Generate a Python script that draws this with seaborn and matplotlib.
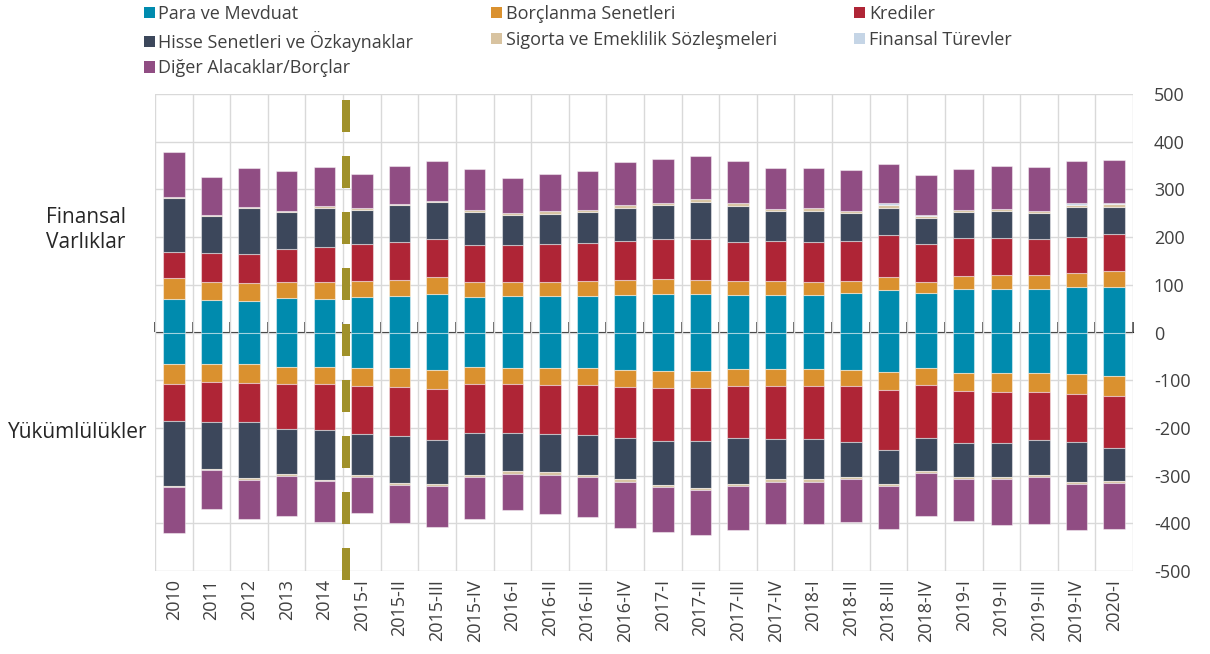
import numpy as np
import pandas as pd
import seaborn as sns
import matplotlib.pyplot as plt
from matplotlib.patches import Patch

donemler = ['2010', '2011', '2012', '2013', '2014', '2015-I', '2015-II', '2015-III', '2015-IV',
            '2016-I', '2016-II', '2016-III', '2016-IV', '2017-I', '2017-II', '2017-III', '2017-IV',
            '2018-I', '2018-II', '2018-III', '2018-IV', '2019-I', '2019-II', '2019-III', '2019-IV', '2020-I']

# finansal varliklar (pozitif)
para_v = [70, 68.5, 66, 72, 71, 73.5, 75.5, 80, 73.5, 75.5, 75.5, 75.5, 79, 80.5, 81, 78, 79,
          79, 82.5, 90, 82, 92, 91.5, 91.5, 94.5, 95]
borc_v = [44, 37.5, 38, 34, 34, 35, 35, 36.5, 31.5, 30.5, 30.5, 32.5, 32, 32, 30, 30, 28.5,
          27, 25, 27, 24, 26, 28.5, 28.5, 30.5, 33]
kredi_v = [54, 60, 60, 69.5, 74, 76.5, 78.5, 79.5, 78, 77, 78.5, 79.5, 81, 82.5, 85, 81.5, 83.5,
           83, 84.5, 88, 79, 80, 78.5, 76, 76, 79.5]
hisse_v = [114, 79, 97, 77, 82, 71, 78, 77, 69, 62.5, 64.5, 65, 70, 72, 77.5, 76, 63,
           65, 57.5, 56.5, 55, 54, 55.5, 54, 62.5, 56.5]
sigorta_v = [2, 2, 2, 3, 4, 4, 3, 3.5, 4, 4, 5, 4, 5, 5, 5.5, 5.5, 5.5,
             6, 5, 5, 5, 5.5, 5, 5, 4.5, 5]
turev_v = [0, 0, 0, 0, 0, 0, 0, 0, 0, 0, 0, 0, 0, 0, 0, 0, 0,
           0, 0, 4, 1, 0, 0, 0, 2.5, 3]
diger_v = [94, 80, 81, 83, 82, 72, 79, 83, 86, 74.5, 79, 82, 91, 91, 90, 89, 84.5,
           85, 85.5, 83, 85, 86, 91, 92.5, 89.5, 89.5]

# yukumlulukler (negatif)
para_y = [-67, -66, -66, -73, -72, -74, -75, -78, -73, -75, -75, -75, -78, -80, -80, -77, -77,
          -76, -78, -82.5, -75, -85, -85, -85, -87.5, -91.5]
borc_y = [-42, -37.5, -39, -35, -37, -38, -38.5, -39.5, -34.5, -34, -35.5, -36, -36, -36, -37, -36, -36,
          -36, -35, -38.5, -35.5, -38, -39.5, -39, -41.5, -42.5]
kredi_y = [-76, -84.5, -82, -94, -96, -100.5, -104, -108.5, -103.5, -102, -102.5, -104, -108, -110.5, -111, -108.5, -110,
           -111, -117, -126, -111, -109, -107.5, -102, -101.5, -108.5]
hisse_y = [-137, -98, -119, -94.5, -105, -86.5, -98, -92, -87.5, -80, -80, -83, -86, -92.5, -98.5, -96, -84.5,
           -84.5, -73, -70.5, -68.5, -71, -71, -73, -82, -68]
sigorta_y = [-2, -3, -3, -3.5, -2, -4, -3.5, -4.5, -3.5, -5, -5, -4, -5, -5, -4.5, -4.5, -5,
             -5, -4.5, -4.5, -5, -4, -4.5, -4.5, -5, -5]
turev_y = [0] * 26
diger_y = [-96, -81, -83, -85, -86, -75, -80, -85, -89, -76, -82, -85, -96, -95, -94, -93, -89.5,
           -89.5, -89, -90, -90, -88, -96.5, -97, -96, -96.5]

seriler = ['Para ve Mevduat', 'Borçlanma Senetleri', 'Krediler', 'Hisse Senetleri ve Özkaynaklar',
           'Sigorta ve Emeklilik Sözleşmeleri', 'Finansal Türevler', 'Diğer Alacaklar/Borçlar']
renkler = ['#008BAE', '#DA912F', '#AF2536', '#3C475B', '#D8C3A0', '#C5D5E6', '#904D83']
varlik = [para_v, borc_v, kredi_v, hisse_v, sigorta_v, turev_v, diger_v]
yukum = [para_y, borc_y, kredi_y, hisse_y, sigorta_y, turev_y, diger_y]

y_ticks = [500, 400, 300, 200, 100, 0, -100, -200, -300, -400, -500]
y_labels = ['500', '400', '300', '200', '100', '0', '-100', '-200', '-300', '-400', '-500']

sns.set_style('white')
plt.rcParams['font.family'] = ['Open Sans', 'DejaVu Sans']
plt.rcParams['axes.unicode_minus'] = False
txt = '#404040'

fig = plt.figure(figsize=(12.1, 6.54), dpi=100)
ax = fig.add_axes([155 / 1210, 1 - 571 / 654, (1133 - 155) / 1210, (571 - 94) / 654])

n = len(donemler)
alt_p = np.zeros(n)
alt_n = np.zeros(n)
for ad, renk, pv, nv in zip(seriler, renkler, varlik, yukum):
    pv = np.array(pv, dtype=float)
    nv = np.array(nv, dtype=float)
    sns.barplot(x=donemler, y=pv, bottom=alt_p, color=renk, saturation=1, width=0.57,
                errorbar=None, edgecolor=(1, 1, 1, 0.45), linewidth=0.8, ax=ax, zorder=3)
    sns.barplot(x=donemler, y=nv, bottom=alt_n, color=renk, saturation=1, width=0.57,
                errorbar=None, edgecolor=(1, 1, 1, 0.45), linewidth=0.8, ax=ax, zorder=3)
    alt_p += pv
    alt_n += nv

ax.set_xlim(-0.5, n - 0.5)
ax.set_ylim(-500, 500)
ax.set_xlabel('')
ax.set_ylabel('')
for s in ax.spines.values():
    s.set_visible(False)

# grid
ax.set_xticks(np.arange(-0.5, n), minor=True)
ax.grid(True, which='minor', axis='x', color='#D9D9D9', linewidth=1, zorder=0)
ax.grid(True, which='major', axis='y', color='#D9D9D9', linewidth=1, zorder=0)
ax.grid(False, which='major', axis='x')
ax.set_axisbelow(True)

ax.set_xticks(range(n))
ax.set_xticklabels(donemler, rotation=90, ha='center', va='top')
ax.tick_params(axis='x', which='both', length=0, pad=6, labelsize=13, labelcolor=txt)

ax.yaxis.tick_right()
ax.set_yticks(y_ticks)
ax.set_yticklabels(y_labels)
ax.tick_params(axis='y', length=0, pad=15, labelsize=13, labelcolor=txt)

# sifir cizgisi
sec = ax.secondary_xaxis(0.5)
sec.set_xticks(np.arange(-0.5, n))
sec.set_xticklabels([])
sec.tick_params(axis='x', length=7, width=1.2, direction='out', color='#404040')
sec.spines['bottom'].set_color('#404040')
sec.spines['bottom'].set_linewidth(1.8)
sec.spines['bottom'].set_zorder(4)

# 2014 / 2015 ayraci
ax.plot([4.58, 4.58], [488, -518], color='#A0912A', linewidth=5.76, linestyle=(0, (4, 3)),
        solid_capstyle='butt', dash_capstyle='butt', clip_on=False, zorder=5)

fig.text(86 / 1210, 1 - 230 / 654, 'Finansal\nVarlıklar', ha='center', va='center',
         fontsize=15, color='#262626', linespacing=1.2)
fig.text(78 / 1210, 1 - 432 / 654, 'Yükümlülükler', ha='center', va='center',
         fontsize=15, color='#262626')

handles = [Patch(facecolor=c, edgecolor='none') for c in renkler]
sira = [0, 3, 6, 1, 4, 2, 5]
fig.legend([handles[i] for i in sira], [seriler[i] for i in sira],
           loc='upper left', bbox_to_anchor=(135 / 1210, 1 + 4 / 654), ncol=3, frameon=False,
           borderpad=0, handlelength=0.6, handleheight=0.6, handletextpad=0.2,
           columnspacing=4.3, labelspacing=0.42, fontsize=13, labelcolor=txt)

fig.savefig('out.png', dpi=100)
